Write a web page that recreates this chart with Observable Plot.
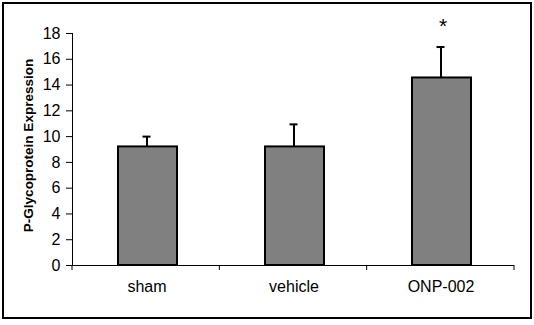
<!DOCTYPE html>
<html><head><meta charset="utf-8">
<script src="https://cdn.jsdelivr.net/npm/d3@7"></script>
<script src="https://cdn.jsdelivr.net/npm/@observablehq/plot@0.6"></script>
<style>
body{margin:0;background:#fff;}
#wrap{position:relative;width:534px;height:325px;}
#frame{position:absolute;left:2px;top:2px;width:530px;height:317px;border:2px solid #000;box-sizing:border-box;pointer-events:none;}
svg{display:block;}
</style></head>
<body>
<div id="wrap"><div id="chart"></div><div id="frame"></div></div>
<script>
const groups = ["sham", "vehicle", "ONP-002"];
const means = [9.2, 9.2, 14.55];
const errors = [0.8, 1.75, 2.4];
const yTicks = [0, 2, 4, 6, 8, 10, 12, 14, 16, 18];
const significance = ["", "", "*"];
const yLabel = "P-Glycoprotein Expression";

const data = groups.map((g, i) => ({group: g, mean: means[i], top: means[i] + errors[i], sig: significance[i]}));

const plot = Plot.plot({
  width: 534,
  height: 325,
  marginLeft: 72,
  marginRight: 20,
  marginTop: 33,
  marginBottom: 60,
  style: {fontFamily: "'Liberation Sans', Arial, sans-serif", fontSize: "16px", background: "transparent", color: "#000"},
  x: {domain: groups, padding: 0},
  y: {domain: [0, 18]},
  marks: [
    Plot.barY(data, {x: "group", y: "mean", fill: "#808080", stroke: "#000", strokeWidth: 2, insetLeft: 45, insetRight: 43}),
    Plot.ruleX(data, {x: "group", y1: "mean", y2: "top", stroke: "#000", strokeWidth: 2}),
    Plot.tickY(data, {x: "group", y: "top", stroke: "#000", strokeWidth: 2, insetLeft: 69.5, insetRight: 69.5}),
    Plot.text(data, {x: "group", y: "top", text: "sig", dy: -21, dx: 2, fontSize: 21, fill: "#000"}),
    Plot.ruleY([0], {stroke: "#000", strokeWidth: 1}),
    Plot.frame({anchor: "left", stroke: "#000", strokeWidth: 1}),
    Plot.axisY({ticks: yTicks, tickSize: 6, tickPadding: 6, fontSize: 16, label: null, tickFormat: d => String(d)}),
    Plot.axisX({tickSize: 0, tickPadding: 15, fontSize: 16, label: null}),
    Plot.text([yLabel], {text: d => d, frameAnchor: "left", textAnchor: "middle", lineAnchor: "middle", dx: -44, dy: -4, rotate: -90, fontSize: 13.5, fontWeight: "bold", fill: "#000"})
  ]
});

document.getElementById("chart").appendChild(plot);

// category boundary ticks below the baseline, placed with the plot's own scales
const xd = plot.scale("x");
const yd = plot.scale("y");
const xb = d3.scaleBand(xd.domain, xd.range).paddingInner(xd.paddingInner || 0).paddingOuter(xd.paddingOuter || 0).align(xd.align ?? 0.5);
const ys = d3.scaleLinear(yd.domain, yd.range);
const bounds = groups.map(g => xb(g)).concat([xb(groups[groups.length - 1]) + xb.bandwidth()]);
const y0 = ys(0);
d3.select(plot).append("g").attr("stroke", "#000").attr("stroke-width", 1)
  .selectAll("line").data(bounds).join("line")
  .attr("x1", d => d).attr("x2", d => d).attr("y1", y0).attr("y2", y0 + 5);
</script>
</body></html>
